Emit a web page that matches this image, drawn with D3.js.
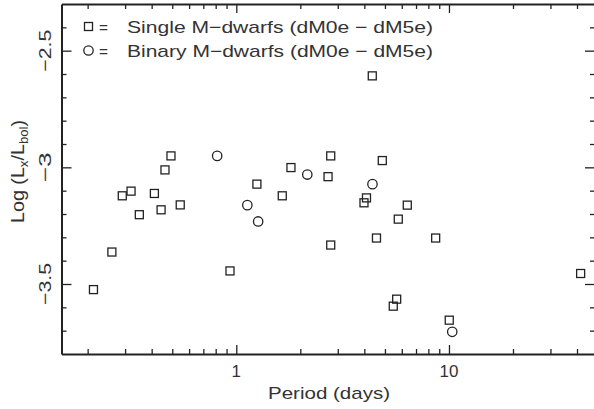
<!DOCTYPE html>
<html>
<head>
<meta charset="UTF-8">
<title>Lx/Lbol vs Period</title>
<script src="https://d3js.org/d3.v7.min.js"></script>
<style>
  body { margin: 0; padding: 0; background: #fff; }
  svg { display: block; }
  text { font-family: "Liberation Sans", Arial, sans-serif; fill: #333; }
  .axis path, .axis line { stroke: #222; }
  .axis path { stroke-width: 2px; }
  .axis line { stroke-width: 1.3px; }
</style>
</head>
<body>
<div id="chart"></div>
<script>
// Single M-dwarfs (squares)
const singlePeriod = [0.213, 0.260, 0.291, 0.320, 0.350, 0.412, 0.443, 0.462, 0.493, 0.545,
  0.934, 1.25, 1.645, 1.807, 2.70, 2.78, 2.78, 3.985, 4.094, 4.359, 4.562, 4.858,
  5.471, 5.677, 5.776, 6.368, 8.659, 10.03, 41.6];
const singleLog = [-3.524, -3.363, -3.122, -3.102, -3.203, -3.112, -3.182, -3.011, -2.951, -3.161,
  -3.444, -3.072, -3.122, -3.001, -3.040, -2.951, -3.333, -3.152, -3.131, -2.608, -3.303, -2.971,
  -3.595, -3.565, -3.222, -3.162, -3.303, -3.655, -3.455];
// Binary M-dwarfs (circles)
const binaryPeriod = [0.813, 1.127, 1.267, 2.157, 4.368, 10.36];
const binaryLog = [-2.951, -3.162, -3.232, -3.031, -3.072, -3.705];

const xMajor = [1, 10];
const xMinor = [0.2, 0.3, 0.4, 0.5, 0.6, 0.7, 0.8, 0.9, 2, 3, 4, 5, 6, 7, 8, 9, 20, 30, 40];
const yMajor = [-2.5, -3, -3.5];
const yMinor = [-2.4, -2.6, -2.7, -2.8, -2.9, -3.1, -3.2, -3.3, -3.4, -3.6, -3.7];

const legendItems = ["Single M\u2212dwarfs (dM0e \u2212 dM5e)", "Binary M\u2212dwarfs (dM0e \u2212 dM5e)"];

const W = 594, H = 409;
const mLeft = 61.5, mRight = 595, mTop = 4, mBottom = 354;

const svg = d3.select("#chart").append("svg").attr("width", W).attr("height", H);

const x = d3.scaleLog().domain([0.1507, 48.6]).range([mLeft, mRight]);
const y = d3.scaleLinear().domain([-3.8, -2.3]).range([mBottom, mTop]);

const fmt = v => String(v).replace("-", "\u2212");

// axes, ticks pointing inward
function addAxis(axisFn, scale, tx, ty, majors, minors, majorLen, minorLen) {
  const gMin = svg.append("g").attr("class", "axis").attr("transform", `translate(${tx},${ty})`)
    .call(axisFn(scale).tickValues(minors).tickSize(minorLen).tickFormat(""));
  gMin.select(".domain").remove();
  const gMaj = svg.append("g").attr("class", "axis").attr("transform", `translate(${tx},${ty})`)
    .call(axisFn(scale).tickValues(majors).tickSizeInner(majorLen).tickSizeOuter(0).tickFormat(""));
  return gMaj;
}
addAxis(d3.axisBottom, x, 0, mBottom, xMajor, xMinor, -9, -5);
addAxis(d3.axisTop, x, 0, mTop, xMajor, xMinor, -9, -5);
addAxis(d3.axisLeft, y, mLeft, 0, yMajor, yMinor, -10, -5);
addAxis(d3.axisRight, y, mRight, 0, yMajor, yMinor, -10, -5);

// tick labels
svg.selectAll(".xlab").data(xMajor).enter().append("text")
  .attr("x", d => x(d)).attr("y", 377)
  .attr("text-anchor", "middle").attr("font-size", 17)
  .text(d => d);

svg.selectAll(".ylab").data(yMajor).enter().append("text")
  .attr("transform", d => `translate(51,${y(d)}) rotate(-90)`)
  .attr("text-anchor", "middle").attr("font-size", 17)
  .attr("textLength", d => fmt(d).length > 2 ? 42 : 30).attr("lengthAdjust", "spacingAndGlyphs")
  .text(d => fmt(d));

// axis titles
svg.append("text").attr("x", 329).attr("y", 399)
  .attr("text-anchor", "middle").attr("font-size", 17)
  .attr("textLength", 122).attr("lengthAdjust", "spacingAndGlyphs")
  .text("Period (days)");

const yt = svg.append("text").attr("transform", "translate(24,171.5) rotate(-90)")
  .attr("text-anchor", "middle").attr("font-size", 18)
  .attr("textLength", 103).attr("lengthAdjust", "spacingAndGlyphs");
yt.append("tspan").text("Log (L");
yt.append("tspan").attr("baseline-shift", "-30%").attr("font-size", 12).text("x");
yt.append("tspan").text("/L");
yt.append("tspan").attr("baseline-shift", "-30%").attr("font-size", 12).text("bol");
yt.append("tspan").text(")");

// points
const sq = 8;
svg.selectAll(".single").data(singlePeriod).enter().append("rect")
  .attr("x", (d, i) => x(d) - sq / 2).attr("y", (d, i) => y(singleLog[i]) - sq / 2)
  .attr("width", sq).attr("height", sq)
  .attr("fill", "none").attr("stroke", "#222").attr("stroke-width", 1.3);

svg.selectAll(".binary").data(binaryPeriod).enter().append("circle")
  .attr("cx", d => x(d)).attr("cy", (d, i) => y(binaryLog[i])).attr("r", 4.7)
  .attr("fill", "none").attr("stroke", "#222").attr("stroke-width", 1.3);

// legend
const leg = svg.append("g");
leg.append("rect").attr("x", 84.5).attr("y", 22.5).attr("width", sq).attr("height", sq)
  .attr("fill", "none").attr("stroke", "#222").attr("stroke-width", 1.3);
leg.append("circle").attr("cx", 88.5).attr("cy", 50.5).attr("r", 4.7)
  .attr("fill", "none").attr("stroke", "#222").attr("stroke-width", 1.3);
leg.selectAll(".eq").data(legendItems).enter().append("text")
  .attr("x", 99).attr("y", (d, i) => 33 + i * 24)
  .attr("font-size", 17).attr("textLength", 9).attr("lengthAdjust", "spacingAndGlyphs")
  .text("=");
leg.selectAll(".lt").data(legendItems).enter().append("text")
  .attr("x", 127).attr("y", (d, i) => 33 + i * 24)
  .attr("font-size", 17).attr("textLength", 306).attr("lengthAdjust", "spacingAndGlyphs")
  .text(d => d);
</script>
</body>
</html>
